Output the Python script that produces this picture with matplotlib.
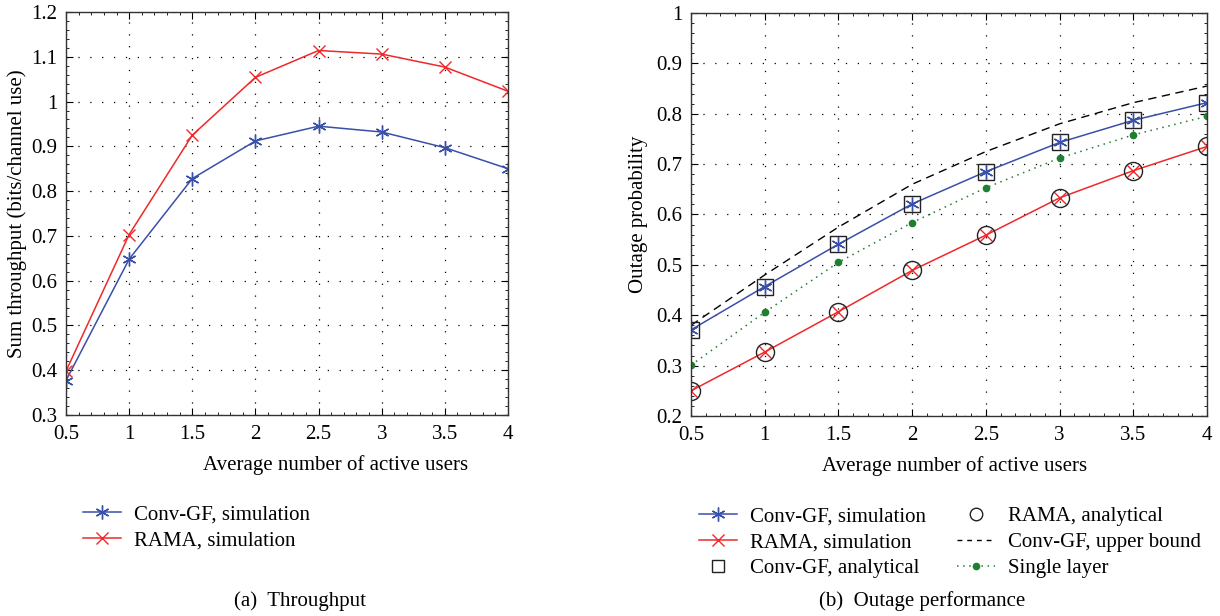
import matplotlib
matplotlib.use("Agg")
import matplotlib.pyplot as plt
from matplotlib.ticker import MultipleLocator
from matplotlib.lines import Line2D

plt.rcParams['font.family'] = ['Liberation Serif', 'DejaVu Serif']
plt.rcParams['font.size'] = 15

users = [0.5, 1, 1.5, 2, 2.5, 3, 3.5, 4]

# (a) Throughput
thr_conv = [0.377, 0.648, 0.828, 0.912, 0.945, 0.932, 0.897, 0.850]
thr_rama = [0.398, 0.703, 0.925, 1.054, 1.114, 1.106, 1.077, 1.023]

# (b) Outage
out_conv_sim = [0.371, 0.457, 0.541, 0.621, 0.685, 0.743, 0.787, 0.822]
out_rama_sim = [0.250, 0.327, 0.407, 0.489, 0.559, 0.633, 0.687, 0.735]
out_conv_ana = [0.371, 0.457, 0.541, 0.621, 0.685, 0.743, 0.787, 0.822]
out_rama_ana = [0.250, 0.327, 0.407, 0.489, 0.559, 0.633, 0.687, 0.735]
out_upper = [0.380, 0.480, 0.575, 0.660, 0.725, 0.780, 0.822, 0.855]
out_single = [0.301, 0.406, 0.505, 0.584, 0.653, 0.712, 0.758, 0.795]

xticks = [0.5, 1, 1.5, 2, 2.5, 3, 3.5, 4]
xticklabels = ['0.5', '1', '1.5', '2', '2.5', '3', '3.5', '4']

BLUE = '#3a4fa8'
RED = '#f0282a'
GREEN = '#1f7f30'

fig = plt.figure(figsize=(12.2, 6.16), dpi=100)
ax1 = fig.add_axes([66/1220, 1-415/616, (508-66)/1220, (415-12)/616])
ax2 = fig.add_axes([691/1220, 1-416/616, (1207-691)/1220, (416-13)/616])

def style(ax, ylim, yticks, ylabels, xlabel_x):
    ax.set_xlim(0.5, 4)
    ax.set_ylim(*ylim)
    ax.set_xticks(xticks)
    ax.set_xticklabels(xticklabels)
    ax.set_yticks(yticks)
    ax.set_yticklabels(ylabels)
    ax.xaxis.set_minor_locator(MultipleLocator(0.1))
    ax.yaxis.set_minor_locator(MultipleLocator(0.02))
    ax.tick_params(which='both', direction='in', top=True, right=True, labelsize=15)
    ax.tick_params(axis='x', pad=7)
    ax.tick_params(axis='y', pad=6)
    ax.tick_params(which='major', length=5)
    ax.tick_params(which='minor', length=2.5)
    ax.grid(True, which='major', linestyle=(0, (1, 8.5)), color='black', linewidth=0.9)
    for s in ax.spines.values():
        s.set_linewidth(1.0)
        s.set_color('#333333')
    ax.set_xlabel('Average number of active users', fontsize=15, labelpad=8, x=xlabel_x)

style(ax1, (0.3, 1.2), [0.3 + 0.1*i for i in range(10)],
      ['0.3', '0.4', '0.5', '0.6', '0.7', '0.8', '0.9', '1', '1.1', '1.2'], 0.61)
ax1.plot(users, thr_conv, color=BLUE, marker=(6, 2, 0), markersize=10, linewidth=1.1,
         markeredgewidth=1.0, label='Conv-GF, simulation')
ax1.plot(users, thr_rama, color=RED, marker='x', markersize=9, linewidth=1.1,
         markeredgewidth=1.0, label='RAMA, simulation')
ax1.set_ylabel('Sum throughput (bits/channel use)', fontsize=15, labelpad=3)

style(ax2, (0.2, 1.0), [0.2 + 0.1*i for i in range(9)],
      ['0.2', '0.3', '0.4', '0.5', '0.6', '0.7', '0.8', '0.9', '1'], 0.51)
ax2.plot(users, out_upper, color='black', linestyle=(0, (6, 4)), linewidth=1.0,
         label='Conv-GF, upper bound')
ax2.plot(users, out_single, color=GREEN, linestyle=(0, (1, 3)), linewidth=1.1,
         marker='o', markersize=4.5, label='Single layer')
ax2.plot(users, out_conv_sim, color=BLUE, marker=(6, 2, 0), markersize=10, linewidth=1.1,
         markeredgewidth=1.0, label='Conv-GF, simulation')
ax2.plot(users, out_rama_sim, color=RED, marker='x', markersize=9, linewidth=1.1,
         markeredgewidth=1.0, label='RAMA, simulation')
ax2.plot(users, out_conv_ana, linestyle='none', marker='s', markersize=11,
         markerfacecolor='none', markeredgecolor='#222222', markeredgewidth=1.0,
         label='Conv-GF, analytical')
ax2.plot(users, out_rama_ana, linestyle='none', marker='o', markersize=13,
         markerfacecolor='none', markeredgecolor='#222222', markeredgewidth=1.0,
         label='RAMA, analytical')
ax2.set_ylabel('Outage probability', fontsize=15, labelpad=6)

# Legends
h1 = [Line2D([], [], color=BLUE, marker=(6, 2, 0), markersize=10, lw=1.1),
      Line2D([], [], color=RED, marker='x', markersize=9, lw=1.1)]
fig.legend(h1, ['Conv-GF, simulation', 'RAMA, simulation'],
           loc='upper left', bbox_to_anchor=(66/1220, 1-488/616), frameon=False,
           fontsize=15, handlelength=1.85, labelspacing=0.3, handletextpad=0.6,
           borderpad=0.3)

h2 = [Line2D([], [], color=BLUE, marker=(6, 2, 0), markersize=10, lw=1.1),
      Line2D([], [], color=RED, marker='x', markersize=9, lw=1.1),
      Line2D([], [], color='none', marker='s', markersize=8, markerfacecolor='none',
             markeredgecolor='#222222'),
      Line2D([], [], color='none', marker='o', markersize=9, markerfacecolor='none',
             markeredgecolor='#222222'),
      Line2D([], [], color='black', linestyle=(0, (3.5, 3.5)), lw=1.0),
      Line2D([], [], color=GREEN, linestyle=(0, (1, 3)), marker='o', markersize=4.5, lw=1.1)]
fig.legend(h2, ['Conv-GF, simulation', 'RAMA, simulation', 'Conv-GF, analytical',
                'RAMA, analytical', 'Conv-GF, upper bound', 'Single layer'],
           loc='upper left', bbox_to_anchor=(682/1220, 1-490/616), frameon=False, ncol=2,
           fontsize=15, handlelength=1.85, labelspacing=0.3, handletextpad=0.6,
           columnspacing=1.5, borderpad=0.3)

fig.text(300/1220, 1-601/616, '(a)  Throughput', ha='center', va='center', fontsize=15)
fig.text(922/1220, 1-601/616, '(b)  Outage performance', ha='center', va='center', fontsize=15)

fig.savefig('out.png', dpi=100)
